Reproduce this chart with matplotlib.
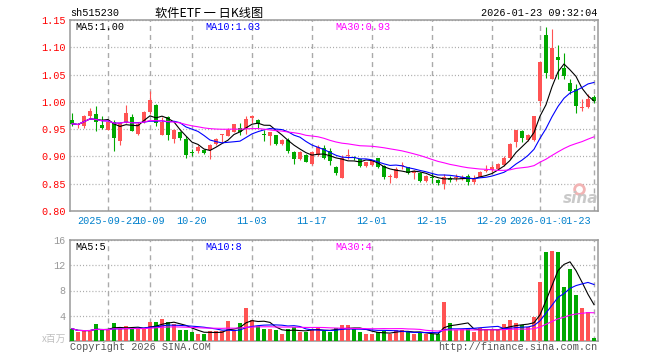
import matplotlib
matplotlib.use('Agg')
import matplotlib.pyplot as plt
from matplotlib.lines import Line2D
import numpy as np
import pandas as pd

plt.rcParams['lines.scale_dashes'] = False

# ---------------- data ----------------
dates = (
    ['2025-09-%02d' % d for d in [12, 15, 16, 17, 18, 19, 22, 23, 24, 25, 26, 29, 30]] +
    ['2025-10-%02d' % d for d in [9, 10, 13, 14, 15, 16, 17, 20, 21, 22, 23, 24, 27, 28, 29, 30, 31]] +
    ['2025-11-%02d' % d for d in [3, 4, 5, 6, 7, 10, 11, 12, 13, 14, 17, 18, 19, 20, 21, 24, 25, 26, 27, 28]] +
    ['2025-12-%02d' % d for d in [1, 2, 3, 4, 5, 8, 9, 10, 11, 12, 15, 16, 17, 18, 19, 22, 23, 24, 25, 26, 29, 30, 31]] +
    ['2026-01-%02d' % d for d in [5, 6, 7, 8, 9, 12, 13, 14, 15, 16, 19, 20, 21, 22, 23]]
)

opens = [
    0.9675, 0.957, 0.955, 0.974, 0.978, 0.958, 0.949, 0.963, 0.929, 0.963,
    0.972, 0.942, 0.963, 0.9815, 0.994, 0.940, 0.972, 0.932, 0.944, 0.932,
    0.909, 0.910, 0.912, 0.912, 0.9225, 0.939, 0.938, 0.945, 0.953, 0.951,
    0.971, 0.9665, 0.942, 0.9366, 0.939, 0.9225, 0.9305, 0.908, 0.895, 0.902,
    0.886, 0.902, 0.916, 0.910, 0.881, 0.861, 0.900, 0.899, 0.895, 0.883,
    0.884, 0.897, 0.883, 0.862, 0.861, 0.882, 0.880, 0.869, 0.8705, 0.855,
    0.862, 0.8565, 0.850, 0.861, 0.860, 0.858, 0.865, 0.854, 0.863, 0.873,
    0.875, 0.8765, 0.8846, 0.897, 0.926, 0.947, 0.9294, 0.9306, 1.0012, 1.122,
    1.042, 1.082, 1.0626, 1.034, 1.024, 0.988, 0.991, 1.009]

closes = [
    0.960, 0.957, 0.974, 0.984, 0.964, 0.953, 0.963, 0.934, 0.961, 0.980,
    0.947, 0.9595, 0.9815, 1.004, 0.961, 0.963, 0.939, 0.949, 0.934, 0.902,
    0.907, 0.918, 0.907, 0.9207, 0.9317, 0.9405, 0.949, 0.959, 0.945, 0.968,
    0.974, 0.959, 0.940, 0.944, 0.923, 0.9305, 0.910, 0.896, 0.908, 0.890,
    0.908, 0.918, 0.898, 0.892, 0.8705, 0.897, 0.902, 0.897, 0.883, 0.889,
    0.891, 0.880, 0.8625, 0.863, 0.877, 0.883, 0.869, 0.874, 0.855, 0.8645,
    0.860, 0.852, 0.8625, 0.857, 0.862, 0.863, 0.854, 0.861, 0.872, 0.875,
    0.8815, 0.8865, 0.897, 0.923, 0.948, 0.934, 0.9398, 0.9736, 1.073, 1.053,
    1.098, 1.076, 1.047, 1.0196, 0.993, 0.9895, 1.0055, 1.001]

highs = [
    0.980, 0.961, 0.975, 0.989, 0.992, 0.974, 0.967, 0.967, 0.964, 0.994,
    0.977, 0.964, 0.983, 1.0196, 0.996, 0.972, 0.974, 0.951, 0.946, 0.937,
    0.914, 0.921, 0.913, 0.9225, 0.933, 0.941, 0.953, 0.960, 0.962, 0.9745,
    0.975, 0.968, 0.949, 0.945, 0.940, 0.932, 0.933, 0.910, 0.9097, 0.904,
    0.910, 0.921, 0.921, 0.915, 0.883, 0.903, 0.9135, 0.901, 0.896, 0.890,
    0.893, 0.898, 0.885, 0.867, 0.880, 0.889, 0.881, 0.875, 0.872, 0.866,
    0.869, 0.858, 0.867, 0.864, 0.867, 0.866, 0.868, 0.866, 0.874, 0.885,
    0.885, 0.888, 0.900, 0.9245, 0.949, 0.949, 0.9417, 0.9748, 1.075, 1.138,
    1.133, 1.104, 1.090, 1.042, 1.032, 1.0055, 1.0135, 1.012]

lows = [
    0.955, 0.952, 0.953, 0.9705, 0.946, 0.950, 0.948, 0.910, 0.921, 0.961,
    0.946, 0.940, 0.961, 0.978, 0.955, 0.939, 0.931, 0.924, 0.931, 0.898,
    0.900, 0.906, 0.904, 0.896, 0.921, 0.926, 0.9366, 0.944, 0.939, 0.941,
    0.961, 0.953, 0.929, 0.9207, 0.921, 0.921, 0.907, 0.886, 0.894, 0.889,
    0.885, 0.9007, 0.896, 0.884, 0.866, 0.860, 0.895, 0.893, 0.880, 0.880,
    0.882, 0.878, 0.858, 0.852, 0.860, 0.877, 0.8675, 0.858, 0.854, 0.854,
    0.852, 0.848, 0.840, 0.853, 0.855, 0.857, 0.848, 0.849, 0.862, 0.871,
    0.872, 0.875, 0.883, 0.895, 0.918, 0.926, 0.9275, 0.9275, 0.992, 1.044,
    1.041, 1.041, 1.042, 1.0135, 0.980, 0.983, 0.989, 0.997]

volumes = [
    1.95, 1.42, 1.58, 1.68, 2.63, 1.68, 1.68, 2.79, 1.95, 2.30,
    1.95, 1.95, 1.95, 2.95, 2.95, 3.42, 2.95, 2.63, 1.68, 1.68,
    1.37, 1.16, 1.05, 1.58, 1.58, 1.53, 3.10, 1.68, 2.79, 5.30,
    3.26, 2.42, 1.90, 1.84, 1.68, 1.05, 1.84, 2.20, 1.47, 1.47,
    1.84, 2.10, 1.58, 1.42, 2.10, 2.47, 2.47, 1.84, 1.42, 1.05,
    1.05, 1.42, 1.58, 1.16, 1.79, 1.68, 1.42, 1.05, 1.26, 1.05,
    1.05, 1.05, 6.16, 2.79, 1.68, 1.84, 1.84, 1.42, 2.10, 1.84,
    1.84, 1.68, 2.63, 3.26, 2.79, 2.47, 2.20, 3.74, 9.42, 14.16,
    14.30, 14.16, 8.63, 11.47, 7.21, 5.16, 4.53, 0.47]

tick_dates = ['2025-09-22', '2025-10-09', '2025-10-20', '2025-11-03', '2025-11-17',
              '2025-12-01', '2025-12-15', '2025-12-29', '2026-01-12', '2026-01-23']
tick_labels = ['2025-09-22', '10-09', '10-20', '11-03', '11-17',
               '12-01', '12-15', '12-29', '2026-01-12', '01-23']
price_ticks = [0.80, 0.85, 0.90, 0.95, 1.00, 1.05, 1.10, 1.15]
vol_ticks = [4, 8, 12, 16]

symbol = 'sh515230'
title = '软件ETF 一 日K线图'
stamp = '2026-01-23 09:32:04'
price_ma_labels = ['MA5:1.00', 'MA10:1.03', 'MA30:0.93']
vol_ma_labels = ['MA5:5', 'MA10:8', 'MA30:4']

# ---------------- style ----------------
W, H = 660, 360
RED = '#ff5353'
GREEN = '#00a800'
MA_COLORS = ['#000000', '#0000ff', '#ff00ff']
MONO = 'Liberation Mono'
CJK = ['Noto Sans CJK SC', 'DejaVu Sans']
FS = 7.3
GRID = '#aaaaaa'
SPINE = '#999999'

def fx(x):
    return x / W

def fy(y):
    return 1 - y / H

fig = plt.figure(figsize=(6.6, 3.6), dpi=100)
fig.patch.set_facecolor('white')
L, R = 70, 598
ax = fig.add_axes([fx(L), fy(211), fx(R) - fx(L), fy(20) - fy(211)])
axv = fig.add_axes([fx(L), fy(341), fx(R) - fx(L), fy(240) - fy(341)])

n = len(closes)
x = np.arange(n)
o = np.array(opens); c = np.array(closes)
hi = np.array(highs); lo = np.array(lows)
up = c >= o
cols = np.where(up, RED, GREEN)

# candles
ax.vlines(x, lo, hi, colors=cols, linewidth=0.8, zorder=3)
body_bottom = np.minimum(o, c)
body_h = np.maximum(np.abs(c - o), 0.0019)
ax.bar(x, body_h, bottom=body_bottom, width=0.8, color=cols, linewidth=0, zorder=4)

# price MAs
cs = pd.Series(closes)
for win, col in zip([5, 10, 30], MA_COLORS):
    ax.plot(x, cs.rolling(win, min_periods=1).mean(), color=col, linewidth=0.8, zorder=5)

# volume
axv.bar(x, volumes, width=0.8, color=cols, linewidth=0, zorder=3)
vs = pd.Series(volumes)
for win, col in zip([5, 10, 30], MA_COLORS):
    axv.plot(x, vs.rolling(win, min_periods=1).mean(), color=col, linewidth=0.8, zorder=5)

tick_pos = [dates.index(d) for d in tick_dates]

for a in (ax, axv):
    a.set_xlim(-0.33, n - 0.33)
    a.set_xticks(tick_pos)
    a.set_xticklabels([])
    a.tick_params(axis='both', length=0)
    a.grid(axis='x', color=GRID, linestyle=(0, (3.6, 2.9)), linewidth=1.0)
    a.grid(axis='y', color=GRID, linestyle=(0, (0.75, 1.5)), linewidth=0.9)
    a.set_axisbelow(True)
    for s in a.spines.values():
        s.set_color(SPINE)
        s.set_linewidth(1.1)

ax.set_ylim(0.80, 1.15)
ax.set_yticks(price_ticks)
ax.set_yticklabels(['%.2f' % t for t in price_ticks], fontfamily=MONO, fontsize=FS, color='#ff0000')
ax.tick_params(axis='y', pad=3)

axv.set_ylim(0, 16)
axv.set_yticks(vol_ticks)
axv.set_yticklabels([str(t) for t in vol_ticks], fontfamily=MONO, fontsize=FS, color='#999999')
axv.tick_params(axis='y', pad=3)

# x tick labels
xt = ax.get_xaxis_transform()
for p, lab in zip(tick_pos[:-1], tick_labels[:-1]):
    ax.text(p, -0.052, lab, transform=xt, ha='center', va='center',
            fontfamily=MONO, fontsize=FS, color='#0080cc', clip_on=False)
ax.text(tick_pos[-1] - 0.45, -0.052, tick_labels[-1], transform=xt, ha='right', va='center',
        fontfamily=MONO, fontsize=FS, color='#0080cc', clip_on=False,
        bbox=dict(facecolor='white', edgecolor='none', pad=0.3))

# header
fig.text(fx(70), fy(13), symbol, ha='left', va='center', fontfamily=MONO, fontsize=FS, color='black')
fig.text(fx(209), fy(13), title, ha='center', va='center', family=CJK, fontsize=8.8, color='black')
fig.text(fx(597), fy(13), stamp, ha='right', va='center', fontfamily=MONO, fontsize=FS, color='black')

# MA labels
for xp, lab, col in zip([75, 205, 335], price_ma_labels, MA_COLORS):
    fig.text(fx(xp), fy(26.5), lab, ha='left', va='center', fontfamily=MONO, fontsize=FS, color=col)
for xp, lab, col in zip([75, 205, 335], vol_ma_labels, MA_COLORS):
    fig.text(fx(xp), fy(246.5), lab, ha='left', va='center', fontfamily=MONO, fontsize=FS, color=col)

# volume unit & footer
fig.text(fx(66), fy(339), 'x百万', ha='right', va='center', family=CJK, fontsize=7.0, color='#c0c0c0')
fig.text(fx(70), fy(347), 'Copyright 2026 SINA.COM', ha='left', va='center', fontfamily=MONO, fontsize=FS, color='#555555')
fig.text(fx(597), fy(347), 'http://finance.sina.com.cn', ha='right', va='center', fontfamily=MONO, fontsize=FS, color='#555555')

# sina watermark
fig.add_artist(Line2D([fx(579)], [fy(189)], marker='o', markersize=7, markerfacecolor='none',
                      markeredgecolor='#f2b4b4', markeredgewidth=2.0, transform=fig.transFigure))
fig.text(fx(581), fy(198), 'sina', ha='center', va='center', fontfamily='DejaVu Sans',
         fontsize=11, fontweight='bold', fontstyle='italic', color='#c4c4c4', alpha=0.9)

fig.savefig('out.png', dpi=100, facecolor='white')
